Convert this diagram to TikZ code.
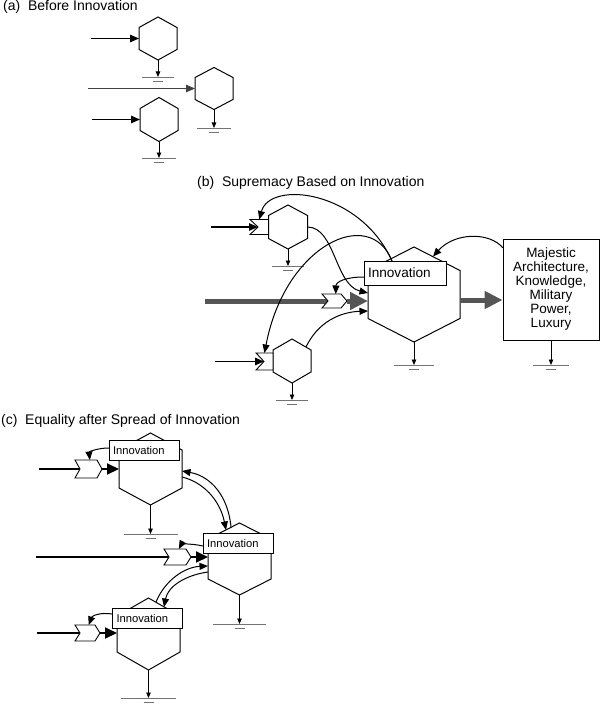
\documentclass[tikz,border=0pt]{standalone}
\usepackage{fontspec}
\setmainfont{Liberation Sans}
\usetikzlibrary{arrows.meta}
\definecolor{gthick}{RGB}{85,85,85}
\newcommand\myhexa[6]{% name, cx, cy, half width, half side, half height
 \coordinate (#1) at (#2,#3);
 \coordinate (#1-t) at ({#2},{#3-#6});
 \coordinate (#1-b) at ({#2},{#3+#6});
 \coordinate (#1-ul) at ({#2-#4},{#3-#5});
 \coordinate (#1-ur) at ({#2+#4},{#3-#5});
 \coordinate (#1-ll) at ({#2-#4},{#3+#5});
 \coordinate (#1-lr) at ({#2+#4},{#3+#5});
 \coordinate (#1-l) at ({#2-#4},{#3});
 \coordinate (#1-r) at ({#2+#4},{#3});
 \draw[hexline] (#1-t)--(#1-ur)--(#1-lr)--(#1-b)--(#1-ll)--(#1-ul)--cycle;}
\newcommand\mygnd[4]{% name, x, y, half width
 \coordinate (#1) at (#2,#3);
 \draw[gndline] ({#2-#4},#3) -- ({#2+#4},#3);
 \draw[gndline] ({#2-5},{#3+4}) -- ({#2+5},{#3+4});}
\newcommand\defchev[6]{% name, xl, xr, y, h, d
 \coordinate (#1-p1) at (#2,{#4-#5});
 \coordinate (#1-p2) at ({#3-#6},{#4-#5});
 \coordinate (#1-p3) at (#3,#4);
 \coordinate (#1-p4) at ({#3-#6},{#4+#5});
 \coordinate (#1-p5) at (#2,{#4+#5});
 \coordinate (#1-in) at ({#2+#6},#4);
 \coordinate (#1-out) at (#3,#4);
 \coordinate (#1-top) at ({#2+0.55*(#3-#2)},{#4-#5});}
\newcommand\drawchev[1]{\draw[chevline] (#1-p1)--(#1-p2)--(#1-p3)--(#1-p4)--(#1-p5)--(#1-in)--cycle;}
\newcommand\defnotch[6]{% name, xl, xr, y, h, d
 \coordinate (#1-p1) at (#2,{#4-#5});
 \coordinate (#1-p2) at (#3,{#4-#5});
 \coordinate (#1-p3) at (#3,{#4+#5});
 \coordinate (#1-p4) at (#2,{#4+#5});
 \coordinate (#1-in) at ({#2+#6},#4);
 \coordinate (#1-top) at ({(#2+#3)/2},{#4-#5});}
\newcommand\drawnotch[1]{\draw[chevline] (#1-p1)--(#1-p2)--(#1-p3)--(#1-p4)--(#1-in)--cycle;}
\tikzset{
 hexline/.style={line width=1pt, line join=miter},
 inarr/.style={line width=1.2pt, -{Triangle[length=9pt,width=7.5pt]}},
 outarr/.style={line width=0.8pt, -{Triangle[length=5.5pt,width=4.5pt]}},
 gndline/.style={line width=0.9pt, draw=black!55},
 arr/.style={line width=1pt, -{Triangle[length=8.5pt,width=7pt]}},
 thickline/.style={line width=5pt, draw=gthick},
 thickarr/.style={line width=5pt, draw=gthick, -{Triangle[length=18pt,width=17pt]}},
 cinline/.style={line width=2.4pt},
 carr/.style={line width=2pt, -{Triangle[length=12pt,width=11pt]}},
 chevline/.style={line width=0.9pt, fill=white, line join=miter},
 innob/.style={draw, line width=0.8pt, fill=white, text width=74pt, inner xsep=4pt, inner ysep=0pt, minimum height=24pt, align=left, font=\fontsize{13.6}{15}\selectfont},
 innoc/.style={draw, line width=0.8pt, fill=white, text width=62pt, inner xsep=4pt, inner ysep=0pt, minimum height=20pt, align=left, font=\fontsize{11.2}{13}\selectfont},
 titletext/.style={font=\fontsize{14}{16}\selectfont, inner sep=0pt}
}
\begin{document}
\begin{tikzpicture}[x=1pt,y=-1pt]
\useasboundingbox (0,0) rectangle (600,706);
% ---------- (a)
\node[titletext, anchor=base west] (ta) at (3,11) {(a)\hspace{0.55em}Before Innovation};
\myhexa{A1}{158}{38.5}{19}{11}{21.5}
\myhexa{A2}{214}{88.5}{19}{11}{21}
\myhexa{A3}{159}{119.5}{19}{11}{22}
\coordinate (a1s) at (91,38.5); \draw[inarr] (a1s) -- (A1-l);
\coordinate (a2s) at (88,88.5); \draw[inarr, line width=0.8pt, draw=black!75] (a2s) -- (A2-l);
\coordinate (a3s) at (92,119.5); \draw[inarr] (a3s) -- (A3-l);
\mygnd{gA1}{158}{77}{16} \draw[outarr] (A1-b) -- (gA1);
\mygnd{gA2}{214}{128}{17} \draw[outarr] (A2-b) -- (gA2);
\mygnd{gA3}{159}{158}{17} \draw[outarr] (A3-b) -- (gA3);
% ---------- (b)
\node[titletext, anchor=base west] (tb) at (197,186) {(b)\hspace{0.55em}Supremacy Based on Innovation};
\myhexa{B1}{288}{227}{19.5}{11.5}{22}
\defnotch{N1}{250}{268.5}{227}{7.5}{8}
\drawnotch{N1}
\coordinate (b1s) at (211,227); \draw[inarr] (b1s) -- (N1-in);
\mygnd{gB1}{288}{266}{16} \draw[outarr] (B1-b) -- (gB1);
\myhexa{B3}{292}{361}{19}{11}{22}
\defnotch{N3}{256}{273}{361.5}{8.5}{8}
\drawnotch{N3}
\coordinate (b3s) at (215,361.5); \draw[inarr] (b3s) -- (N3-in);
\mygnd{gB3}{292}{400}{16} \draw[outarr] (B3-b) -- (gB3);
\myhexa{BH}{414}{294.5}{46}{24}{47.5}
\node[innob] (IB) at (405,273) {Innovation};
\mygnd{gBH}{414}{365}{20} \draw[outarr] (BH-b) -- (gBH);
\node[draw, line width=0.8pt, minimum width=96pt, minimum height=101pt, align=center, inner sep=0pt, font=\fontsize{13.5}{14}\selectfont] (MB) at (551,289.5) {Majestic\\Architecture,\\Knowledge,\\Military\\Power,\\Luxury};
\mygnd{gMB}{551}{365}{18} \draw[outarr] (MB.south) -- (gMB);
\coordinate (b2s) at (205,301);
\defchev{CB}{322}{347}{301}{7}{6}
\draw[thickline] (b2s) -- (CB-in);
\drawchev{CB}
\draw[thickarr] (CB-out) -- (BH-l |- CB-out);
\coordinate (bo) at (460,300);
\draw[thickarr] (bo) -- (MB.west |- bo);
\coordinate (bj) at (392,261);
\draw[arr] (bj) .. controls (360,190) and (270,180) .. (N1-top);
\draw[arr] (bj) .. controls (370,205) and (285,245) .. (N3-top);
\coordinate (bh1) at (368,293);
\coordinate (bh2) at (368,311);
\draw[arr] (B1-r) .. controls (335,227) and (335,285) .. (bh1);
\coordinate (b3o) at (306,347);
\draw[arr] (b3o) .. controls (318,322) and (340,312) .. (bh2);
\coordinate (ibl) at (364,277);
\draw[arr] (ibl) .. controls (345,277) and (336,282) .. (CB-top);
\coordinate (mbf) at (503,248);
\coordinate (bht) at (433,256.5);
\draw[arr] (mbf) .. controls (490,232) and (455,232) .. (bht);
% ---------- (c)
\node[titletext, anchor=base west] (tc) at (1,424) {(c)\hspace{0.55em}Equality after Spread of Innovation};
\myhexa{C1}{150.5}{469}{31.5}{19}{36}
\node[innoc] (IC1) at (144,450) {Innovation};
\defchev{K1}{75}{102}{469}{9}{5}
\coordinate (c1s) at (39,469); \draw[cinline] (c1s) -- (K1-in); \drawchev{K1}
\draw[carr] (K1-out) -- (C1-l);
\coordinate (ic1l) at (109,448);
\draw[arr] (ic1l) .. controls (97,448) and (89,452) .. (K1-top);
\mygnd{gC1}{150.5}{534}{27} \draw[outarr] (C1-b) -- (gC1);
\myhexa{C2}{239.5}{559}{31.5}{20}{36}
\node[innoc] (IC2) at (238,543.5) {Innovation};
\defchev{K2}{164}{191}{557}{8}{5}
\coordinate (c2s) at (36,557); \draw[cinline] (c2s) -- (K2-in); \drawchev{K2}
\draw[carr] (K2-out) -- (C2-l |- K2-out);
\coordinate (ic2l) at (203,546);
\draw[arr] (ic2l) .. controls (190,543) and (181,545) .. (K2-top);
\mygnd{gC2}{239.5}{624}{26.5} \draw[outarr] (C2-b) -- (gC2);
\myhexa{C3}{148.5}{634}{31.5}{18}{36}
\node[innoc] (IC3) at (147.5,618) {Innovation};
\defchev{K3}{75}{100}{633}{8}{5}
\coordinate (c3s) at (37,633); \draw[cinline] (c3s) -- (K3-in); \drawchev{K3}
\draw[carr] (K3-out) -- (C3-l |- K3-out);
\coordinate (ic3l) at (112,614);
\draw[arr] (ic3l) .. controls (100,612) and (92,616) .. (K3-top);
\mygnd{gC3}{148.5}{698}{27.5} \draw[outarr] (C3-b) -- (gC3);
% exchanges
\coordinate (c12a) at (231,527);
\coordinate (c12b) at (182,471);
\coordinate (c12c) at (182,477);
\coordinate (c12d) at (226,530);
\draw[arr] (c12a) .. controls (228,495) and (210,476) .. (c12b);
\draw[arr] (c12c) .. controls (203,482) and (220,500) .. (c12d);
\coordinate (c23a) at (156,602);
\coordinate (c23b) at (208,566);
\coordinate (c23c) at (208,572);
\coordinate (c23d) at (164,607);
\draw[arr] (c23a) .. controls (165,580) and (185,567) .. (c23b);
\draw[arr] (c23c) .. controls (186,575) and (168,586) .. (c23d);
\end{tikzpicture}
\end{document}
